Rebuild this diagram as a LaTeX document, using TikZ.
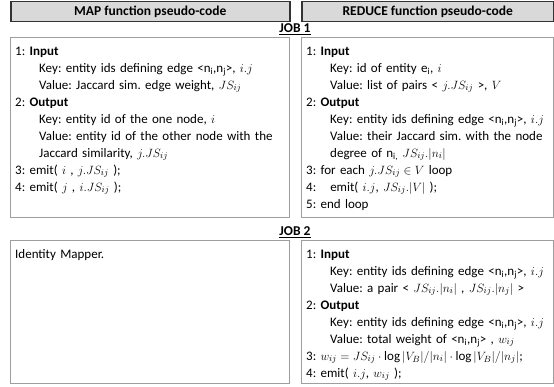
\documentclass[tikz,border=0pt]{standalone}
\usepackage{fontspec}
\setmainfont{Carlito}
\frenchspacing
\setlength{\lineskiplimit}{-6pt}
\newcommand{\ind}{\hspace*{24pt}}
\newcommand{\nsub}[1]{n\textsubscript{#1}}
\begin{document}
\begin{tikzpicture}[x=1pt,y=-1pt,
  font=\fontsize{13}{17}\selectfont,
  headbox/.style={draw=black!80, line width=1.5pt, fill=black!15,
    anchor=north west, inner sep=0pt, font=\fontsize{13.5}{17}\selectfont\bfseries},
  panel/.style={draw=black!38, line width=1.4pt, anchor=north west, inner sep=0pt},
  joblabel/.style={font=\fontsize{13.5}{17}\selectfont\bfseries, inner sep=0pt},
  body/.style={anchor=north west, inner sep=0pt, align=left, text width=300pt,
    execute at begin node={\setlength{\parindent}{0pt}\strut}}
]
\useasboundingbox (0,0) rectangle (554,387);

% column headers
\node[headbox, minimum width=279pt, minimum height=20pt] (maphead) at (10,1)
  {MAP function pseudo-code};
\node[headbox, minimum width=252pt, minimum height=20pt] (redhead) at (301,1)
  {REDUCE function pseudo-code};

% job titles
\node[joblabel] (job1) at (295,29) {\underline{JOB 1}};
\node[joblabel] (job2) at (295,232) {\underline{JOB 2}};

% panels
\node[panel, minimum width=279pt, minimum height=180pt] (map1) at (10,37) {};
\node[panel, minimum width=252pt, minimum height=180pt] (red1) at (301,37) {};
\node[panel, minimum width=279pt, minimum height=143pt] (map2) at (10,240) {};
\node[panel, minimum width=252pt, minimum height=143pt] (red2) at (301,240) {};

% JOB 1 -- map
\node[body] (map1txt) at ([xshift=5pt,yshift=-6pt]map1.north west) {%
1: \textbf{Input}\\
\ind Key: entity ids defining edge <\nsub{i},\nsub{j}>, $i.j$\\
\ind Value: Jaccard sim. edge weight, $JS_{ij}$\\
2: \textbf{Output}\\
\ind Key: entity id of the one node, $i$\\
\ind Value: entity id of the other node with the\\
\ind Jaccard similarity, $j.JS_{ij}$\\
3: emit( $i$ , $j.JS_{ij}$ );\\
4: emit( $j$ , $i.JS_{ij}$ );};

% JOB 1 -- reduce
\node[body] (red1txt) at ([xshift=5pt,yshift=-6pt]red1.north west) {%
1: \textbf{Input}\\
\ind Key: id of entity e\textsubscript{i}, $i$\\
\ind Value: list of pairs < $j.JS_{ij}$ >, $V$\\
2: \textbf{Output}\\
\ind Key: entity ids defining edge <\nsub{i},\nsub{j}>, $i.j$\\
\ind Value: their Jaccard sim. with the node\\
\ind degree of \nsub{i,}\ $JS_{ij}.|n_i|$\\
3: for each $j.JS_{ij}\in V$ loop\\
4:\hspace*{14pt}emit( $i.j$,\ $JS_{ij}.|V|$ );\\
5: end loop};

% JOB 2 -- map
\node[body] (map2txt) at ([xshift=5pt,yshift=-6pt]map2.north west) {Identity Mapper.};

% JOB 2 -- reduce
\node[body] (red2txt) at ([xshift=5pt,yshift=-6pt]red2.north west) {%
1: \textbf{Input}\\
\ind Key: entity ids defining edge <\nsub{i},\nsub{j}>, $i.j$\\
\ind Value: a pair < $JS_{ij}.|n_i|$ , $JS_{ij}.|n_j|$ >\\
2: \textbf{Output}\\
\ind Key: entity ids defining edge <\nsub{i},\nsub{j}>, $i.j$\\
\ind Value: total weight of <\nsub{i},\nsub{j}> , $w_{ij}$\\
3: $w_{ij}=JS_{ij}\cdot\log|V_B|/|n_i|\cdot\log|V_B|/|n_j|$;\\
4: emit( $i.j$, $w_{ij}$ );};
\end{tikzpicture}
\end{document}
